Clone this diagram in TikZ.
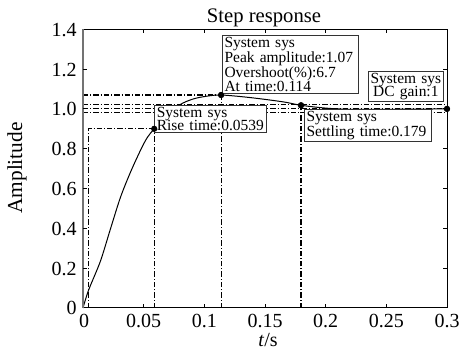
\documentclass[tikz,border=0pt]{standalone}
\usepackage{fontspec}
\setmainfont{Liberation Serif}
\usetikzlibrary{positioning}

\tikzset{
  marker/.style={circle, fill=black, inner sep=0pt, minimum size=4.6pt},
  infobox/.style={draw=black!80, line width=0.8pt, fill=white, anchor=north west, inner xsep=1.5pt, inner ysep=1pt, font=\fontsize{11.6}{10.4}\selectfont, align=left},
  guide/.style={line width=0.8pt, dash pattern=on 4pt off 1.5pt on 0.8pt off 1.5pt},
  ticklabel/.style={inner sep=0pt, font=\fontsize{15}{18}\selectfont},
}

\begin{document}
\begin{tikzpicture}[x=0.75pt,y=0.75pt,yscale=-1,xscale=1]
%set diagram left start at 0, and has height of 356
\path [fill=white] (0,0) rectangle (461,356);
\useasboundingbox (0,0) rectangle (461,356);

%Axis corners
\coordinate (origin) at (83,308);
\coordinate (corner) at (447,29.3);

%Marked points on the response
\node [marker] (rise) at (154.3,128.8) {};
\node [marker] (peak) at (221.1,95) {};
\node [marker] (settle) at (301,105.3) {};
\node [marker] (gain) at (447,108.9) {};
\coordinate (lowmark) at (88.6,128.8);
\coordinate (bandHi) at (83,104.9);
\coordinate (bandLo) at (83,112.9);

%Straight Lines: rise time
\draw [guide] (lowmark |- origin) -- (lowmark) -- (rise.center);
\draw [guide] (rise.center |- origin) -- (rise.center);
%Straight Lines: peak
\draw [guide] (origin |- peak.center) -- (peak.center);
\draw [guide] (peak.center |- origin) -- (peak.center);
%Straight Lines: settling band
\draw [guide] (settle.center |- origin) -- (settle.center);
\draw [guide] (bandHi) -- (bandHi -| corner);
\draw [guide] (bandLo) -- (bandLo -| corner);
%Straight Lines: final value
\draw [guide] (origin |- gain.center) -- (gain.center);

%Curve Lines: step response
\draw [line width=0.75pt] plot [smooth, tension=0.5] coordinates {(83,308) (88.6,290.1) (100.4,261.2) (110.3,229.4) (120.4,197.5) (130.3,172.6) (140.3,150.7) (147.1,137.8) (154.3,128.8) (167.9,114.9) (180.3,104.5) (193.4,98.9) (206.8,96.2) (221.1,95) (250.4,97.6) (283.4,101.9) (301,105.3) (325.7,108.1) (349.9,109.3) (386.3,109.3) (447,108.9)};

% Text Node
\draw (154.3,105) node (risebox) [infobox, text width=81pt] {System sys\\Rise time:0.0539};
% Text Node
\draw (222,35) node (peakbox) [infobox, text width=99pt] {System sys\\Peak amplitude:1.07\\Overshoot(\%):6.7\\At time:0.114};
% Text Node
\draw (304,109) node (settlebox) [infobox, text width=92pt] {System sys\\Settling time:0.179};
% Text Node
\draw (368,71) node (gainbox) [infobox, text width=53pt, align=center] {System sys\\DC gain:1};

%redraw markers above the boxes
\fill (rise) circle (3.05);
\fill (peak) circle (3.05);
\fill (settle) circle (3.05);
\fill (gain) circle (3.05);

%Axis frame
\draw [line width=0.75pt] (origin -| corner) -- (corner) -- (origin |- corner);
\draw [line width=0.75pt] (origin) -- (origin -| corner);
\draw [color=black!55, line width=1.3pt] (origin) -- (origin |- corner);

%Ticks, bottom and top
\draw [line width=0.6pt] (143.7,308) -- (143.7,304) (204.3,308) -- (204.3,304) (265,308) -- (265,304) (325.7,308) -- (325.7,304) (386.3,308) -- (386.3,304);
\draw [line width=0.6pt] (143.7,29.3) -- (143.7,33.3) (204.3,29.3) -- (204.3,33.3) (265,29.3) -- (265,33.3) (325.7,29.3) -- (325.7,33.3) (386.3,29.3) -- (386.3,33.3);
%Ticks, left and right
\draw [line width=0.6pt] (83,268.2) -- (87,268.2) (83,228.4) -- (87,228.4) (83,188.5) -- (87,188.5) (83,148.7) -- (87,148.7) (83,108.9) -- (87,108.9) (83,69.1) -- (87,69.1);
\draw [line width=0.6pt] (447,268.2) -- (443,268.2) (447,228.4) -- (443,228.4) (447,188.5) -- (443,188.5) (447,148.7) -- (443,148.7) (447,108.9) -- (443,108.9) (447,69.1) -- (443,69.1);

% Text Node
\draw (77,315) node (y0) [anchor=base east, ticklabel] {0};
\draw (77,275.2) node (y1) [anchor=base east, ticklabel] {0.2};
\draw (77,235.4) node (y2) [anchor=base east, ticklabel] {0.4};
\draw (77,195.5) node (y3) [anchor=base east, ticklabel] {0.6};
\draw (77,155.7) node (y4) [anchor=base east, ticklabel] {0.8};
\draw (77,115.9) node (y5) [anchor=base east, ticklabel] {1.0};
\draw (77,76.1) node (y6) [anchor=base east, ticklabel] {1.2};
\draw (77,36.3) node (y7) [anchor=base east, ticklabel] {1.4};
% Text Node
\draw (84,328) node (x0) [anchor=base, ticklabel] {0};
\draw (143.7,328) node (x1) [anchor=base, ticklabel] {0.05};
\draw (204.3,328) node (x2) [anchor=base, ticklabel] {0.1};
\draw (265,328) node (x3) [anchor=base, ticklabel] {0.15};
\draw (325.7,328) node (x4) [anchor=base, ticklabel] {0.2};
\draw (386.3,328) node (x5) [anchor=base, ticklabel] {0.25};
\draw (447,328) node (x6) [anchor=base, ticklabel] {0.3};

% Text Node
\draw (264,22.7) node (title) [anchor=base, inner sep=0pt, font=\fontsize{15.5}{18}\selectfont] {Step response};
% Text Node
\draw (268,346) node (xlabel) [anchor=base, inner sep=0pt, font=\fontsize{15}{18}\selectfont] {\textit{t}/s};
% Text Node
\draw (22,168) node (ylabel) [anchor=base, rotate=90, inner sep=0pt, font=\fontsize{16}{18}\selectfont] {Amplitude};

\end{tikzpicture}
\end{document}
